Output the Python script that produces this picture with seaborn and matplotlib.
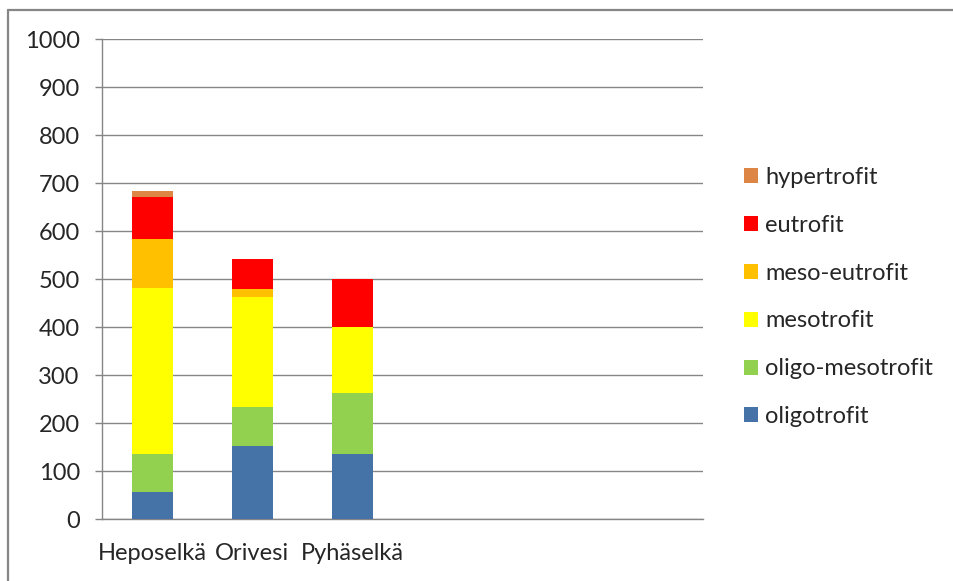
import numpy as np
import pandas as pd
import matplotlib
matplotlib.use("Agg")
import matplotlib.pyplot as plt
from matplotlib.lines import Line2D
import seaborn as sns

# data
jarvet = ["Heposelkä", "Orivesi", "Pyhäselkä"]
oligotrofit = [57, 153, 135]
oligo_mesotrofit = [78, 80, 128]
mesotrofit = [347, 230, 136]
meso_eutrofit = [101, 16, 0]
eutrofit = [88, 62, 100]
hypertrofit = [12, 0, 0]

sarjat = ["oligotrofit", "oligo-mesotrofit", "mesotrofit",
          "meso-eutrofit", "eutrofit", "hypertrofit"]
arvot = [oligotrofit, oligo_mesotrofit, mesotrofit,
         meso_eutrofit, eutrofit, hypertrofit]
varit = ["#4572A7", "#92D050", "#FFFF00", "#FFC000", "#FF0000", "#DC8544"]

sns.set_style("white")
plt.rcParams["font.family"] = ["Lato", "DejaVu Sans"]
harmaa = "#868686"

df = pd.DataFrame(dict(zip(sarjat, arvot)), index=jarvet)
kumul = df.cumsum(axis=1)

fig = plt.figure(figsize=(9.54, 5.81), dpi=100)
ax = fig.add_axes([102 / 954, 1 - 519 / 581, 601 / 954, 480 / 581])

# stacked bars: draw the tallest cumulative layer first, smaller ones on top
for nimi, vari in zip(sarjat[::-1], varit[::-1]):
    sns.barplot(x=jarvet, y=kumul[nimi].values, color=vari, width=0.41,
                ax=ax, label=nimi, linewidth=0, saturation=1, zorder=3)

if ax.get_legend() is not None:
    ax.get_legend().remove()

ax.set_xlim(-0.5, 5.5)
ax.set_ylim(0, 1000)
ax.set_yticks(np.arange(0, 1001, 100))
ax.yaxis.grid(True, color=harmaa, linewidth=1.0, zorder=0)
ax.set_axisbelow(True)
for s in ["top", "right"]:
    ax.spines[s].set_visible(False)
for s in ["left", "bottom"]:
    ax.spines[s].set_color(harmaa)
    ax.spines[s].set_linewidth(1.0)

ax.set_xticks(range(len(jarvet)))
ax.set_xticklabels(jarvet)
ax.set_xticks(np.arange(-0.5, 6, 1), minor=True)
ax.tick_params(axis="x", which="major", length=0, pad=17, labelsize=17)
ax.tick_params(axis="x", which="minor", length=7, width=1, color=harmaa,
               direction="out")
ax.tick_params(axis="y", length=5, width=1, color=harmaa, pad=11,
               labelsize=17, left=True)
ax.set_xlabel("")
ax.set_ylabel("")

kahvat, nimet = ax.get_legend_handles_labels()
fig.legend(kahvat, nimet, loc="center left", bbox_to_anchor=(744 / 954, 1 - 297 / 581),
           frameon=False, fontsize=17, handlelength=0.6, handleheight=0.6,
           handletextpad=0.3, labelspacing=1.14, borderpad=0, borderaxespad=0)

# chart area border (top and left edges visible)
fig.add_artist(Line2D([8 / 954, 1], [1 - 10 / 581, 1 - 10 / 581],
                      color=harmaa, linewidth=1.6, transform=fig.transFigure))
fig.add_artist(Line2D([8 / 954, 8 / 954], [0, 1 - 10 / 581],
                      color=harmaa, linewidth=1.6, transform=fig.transFigure))

fig.savefig("out.png", dpi=100)
